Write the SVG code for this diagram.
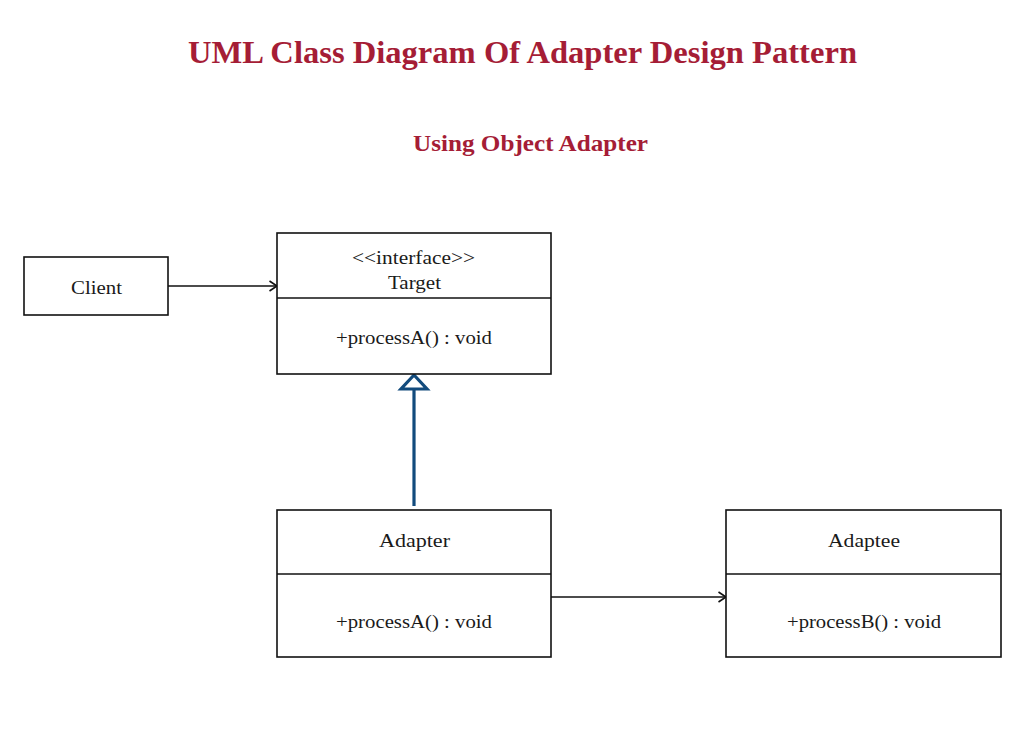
<svg xmlns="http://www.w3.org/2000/svg" width="1028" height="729" viewBox="0 0 1028 729">
<defs>
<style>
.box{fill:#fff;stroke:#111;stroke-width:1.6}
.line{stroke:#111;stroke-width:1.6;fill:none}
.t{font-family:"Liberation Serif","DejaVu Serif",serif;font-size:19px;fill:#1a1a1a;text-anchor:middle}
.title{font-family:"Liberation Serif","DejaVu Serif",serif;font-weight:bold;fill:#a51d36;text-anchor:middle}
</style>
<marker id="open" markerWidth="12" markerHeight="12" refX="10" refY="6" orient="auto" markerUnits="userSpaceOnUse">
<path d="M2.5,1 L10,6 L2.5,11" fill="none" stroke="#111" stroke-width="1.6"/>
</marker>
</defs>
<rect width="1028" height="729" fill="#fff"/>
<text class="title" x="522.5" y="63" font-size="31" textLength="669" lengthAdjust="spacingAndGlyphs">UML Class Diagram Of Adapter Design Pattern</text>
<text class="title" x="530.5" y="151" font-size="23" textLength="235" lengthAdjust="spacingAndGlyphs">Using Object Adapter</text>
<g id="connectors">
<line class="line" x1="168" y1="286" x2="277" y2="286" marker-end="url(#open)"/>
<line class="line" x1="551" y1="597" x2="726" y2="597" marker-end="url(#open)"/>
<line x1="414" y1="506" x2="414" y2="389" stroke="#124b7d" stroke-width="3.2"/>
<polygon points="414,375 401,389 427,389" fill="#fff" stroke="#124b7d" stroke-width="3.2" stroke-linejoin="miter"/>
</g>
<g id="client">
<rect class="box" x="24" y="257" width="144" height="58"/>
<text class="t" x="96.5" y="294" textLength="51" lengthAdjust="spacingAndGlyphs">Client</text>
</g>
<g id="target">
<rect class="box" x="277" y="233" width="274" height="141"/>
<line class="line" x1="277" y1="298" x2="551" y2="298"/>
<text class="t" x="413.5" y="264" textLength="123" lengthAdjust="spacingAndGlyphs">&lt;&lt;interface&gt;&gt;</text>
<text class="t" x="414.5" y="289" textLength="53" lengthAdjust="spacingAndGlyphs">Target</text>
<text class="t" x="414" y="344" textLength="156" lengthAdjust="spacingAndGlyphs">+processA() : void</text>
</g>
<g id="adapter">
<rect class="box" x="277" y="510" width="274" height="147"/>
<line class="line" x1="277" y1="574" x2="551" y2="574"/>
<text class="t" x="414.5" y="547" textLength="71" lengthAdjust="spacingAndGlyphs">Adapter</text>
<text class="t" x="414" y="628" textLength="156" lengthAdjust="spacingAndGlyphs">+processA() : void</text>
</g>
<g id="adaptee">
<rect class="box" x="726" y="510" width="275" height="147"/>
<line class="line" x1="726" y1="574" x2="1001" y2="574"/>
<text class="t" x="864" y="547" textLength="72" lengthAdjust="spacingAndGlyphs">Adaptee</text>
<text class="t" x="864" y="628" textLength="154" lengthAdjust="spacingAndGlyphs">+processB() : void</text>
</g>
</svg>
